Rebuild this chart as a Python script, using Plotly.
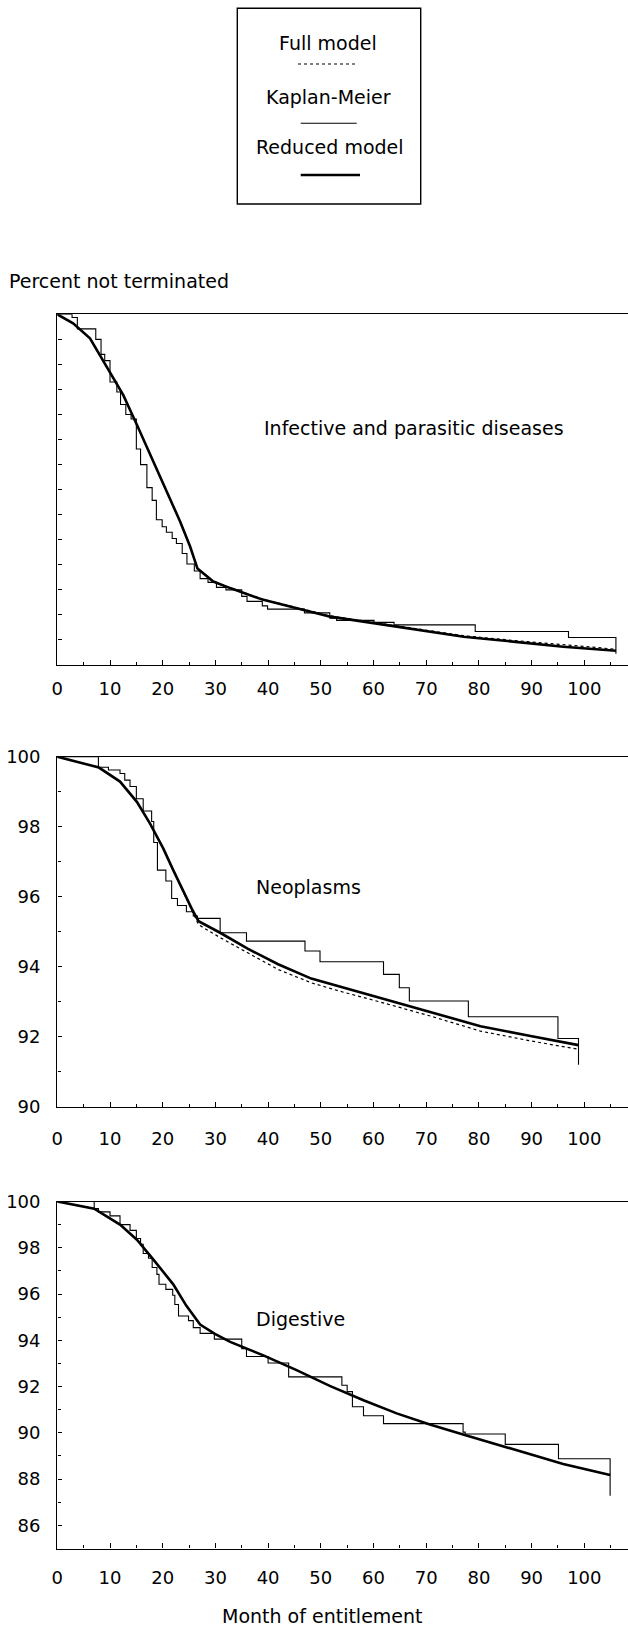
import plotly.graph_objects as go

W, H = 628, 1632

# ---------------- data ----------------
x_tick_vals = [0, 10, 20, 30, 40, 50, 60, 70, 80, 90, 100]

# Panel 1: Infective and parasitic diseases
top_km_month = [0, 2.8, 3.8, 7.3, 8.3, 9.0, 10.0, 11.3, 12.0, 13.0, 14.0, 15.0, 15.8, 17.0,
                18.0, 18.8, 19.9, 20.7, 21.8, 22.6, 23.7, 24.6, 26.0, 27.1, 28.6, 30.2, 32.0,
                35.0, 36.0, 38.9, 39.9, 46.9, 51.7, 53.0, 60.1, 63.9, 79.3, 97.0, 106.0]
top_km_pct = [100, 99.87, 99.42, 99.0, 98.4, 98.15, 97.3, 96.9, 96.4, 96.0, 95.82, 94.62, 94.0, 93.08,
              92.57, 91.8, 91.52, 91.3, 91.05, 90.85, 90.45, 90.03, 89.75, 89.45, 89.3, 89.1, 89.0,
              88.74, 88.54, 88.36, 88.23, 88.08, 87.87, 87.78, 87.70, 87.60, 87.34, 87.10, 86.45]
top_red_month = [0, 3.0, 6.2, 10.0, 12.5, 15.1, 18.2, 20.75, 23.3, 25.2, 26.6, 29.6, 32.8,
                 39.1, 45.4, 51.8, 58.1, 64.4, 70.7, 77.1, 83.4, 89.7, 96.0, 106.0]
top_red_pct = [100, 99.64, 99.04, 97.71, 96.78, 95.59, 94.12, 92.93, 91.73, 90.73, 89.85, 89.33, 89.07,
               88.6, 88.27, 87.93, 87.73, 87.53, 87.33, 87.13, 87.0, 86.87, 86.73, 86.57]
top_full_month = [0, 3.0, 6.2, 10.0, 12.5, 15.1, 18.2, 20.75, 23.3, 25.2, 26.6, 29.6, 32.8,
                  39.1, 45.4, 51.8, 58.1, 64.4, 70.7, 77.1, 83.4, 89.7, 96.0, 106.0]
top_full_pct = [100, 99.64, 99.04, 97.71, 96.78, 95.59, 94.12, 92.93, 91.73, 90.73, 89.85, 89.34, 89.08,
                88.62, 88.29, 87.96, 87.76, 87.56, 87.37, 87.17, 87.04, 86.92, 86.79, 86.63]

# Panel 2: Neoplasms
mid_km_month = [0, 7.8, 9.7, 11.9, 12.8, 13.8, 15.0, 16.3, 17.9, 18.3, 19.0, 20.6, 21.7, 22.8,
                24.5, 25.8, 26.6, 30.9, 35.9, 47.0, 49.85, 61.9, 64.9, 66.8, 78.0, 95.0, 98.9]
mid_km_pct = [100, 99.70, 99.62, 99.52, 99.33, 99.15, 98.80, 98.45, 98.15, 97.55, 96.76, 96.45, 95.95, 95.75,
              95.57, 95.45, 95.38, 94.97, 94.73, 94.45, 94.14, 93.78, 93.40, 93.02, 92.57, 91.95, 91.2]
mid_red_month = [0, 7.9, 11.9, 15.1, 17.6, 20.1, 22.0, 23.9, 25.5, 26.8, 30.9, 36.2, 41.9,
                 48.2, 53.6, 61.3, 70.8, 80.3, 89.8, 98.9]
mid_red_pct = [100, 99.69, 99.29, 98.71, 98.09, 97.38, 96.76, 96.14, 95.66, 95.30, 94.97, 94.51, 94.07,
               93.66, 93.43, 93.11, 92.69, 92.30, 92.02, 91.76]
mid_full_month = [0, 7.9, 11.9, 15.1, 17.6, 20.1, 22.0, 23.9, 25.5, 26.8, 30.9, 36.2, 41.9,
                  48.2, 53.6, 61.3, 70.8, 80.3, 89.8, 98.9]
mid_full_pct = [100, 99.69, 99.29, 98.71, 98.09, 97.38, 96.76, 96.14, 95.66, 95.20, 94.83, 94.40, 93.92,
                93.54, 93.30, 92.99, 92.59, 92.16, 91.88, 91.64]

# Panel 3: Digestive
bot_km_month = [0, 7.0, 7.8, 10.0, 11.9, 13.8, 15.0, 15.8, 16.3, 17.3, 18.0, 18.9, 19.3, 20.6,
                21.9, 22.3, 23.0, 24.9, 25.8, 27.1, 29.8, 35.0, 35.9, 40.0, 43.9, 54.0, 55.0,
                56.0, 58.1, 61.9, 77.0, 77.4, 85.0, 95.1, 104.9]
bot_km_pct = [100, 99.7, 99.55, 99.38, 99.0, 98.75, 98.4, 98.15, 97.75, 97.55, 97.15, 96.85, 96.42, 96.2,
              95.95, 95.55, 95.05, 94.85, 94.55, 94.3, 94.05, 93.64, 93.3, 93.02, 92.42, 92.06, 91.78,
              91.13, 90.74, 90.40, 90.03, 89.95, 89.5, 88.88, 87.28]
bot_red_month = [0, 7.0, 11.9, 15.1, 18.2, 22.0, 24.5, 27.1, 29.9, 32.8, 39.1, 45.4, 51.7,
                 58.1, 64.4, 70.7, 77.0, 83.4, 89.7, 96.0, 104.9]
bot_red_pct = [100, 99.69, 99.0, 98.35, 97.5, 96.42, 95.49, 94.68, 94.28, 93.93, 93.35, 92.71, 92.03,
               91.41, 90.84, 90.36, 89.93, 89.5, 89.07, 88.65, 88.18]
bot_full_month = [0, 7.0, 11.9, 15.1, 18.2, 22.0, 24.5, 27.1, 29.9, 32.8, 39.1, 45.4, 51.7,
                  58.1, 64.4, 70.7, 77.0, 83.4, 89.7, 96.0, 104.9]
bot_full_pct = [100, 99.69, 99.0, 98.35, 97.5, 96.42, 95.49, 94.68, 94.28, 93.93, 93.35, 92.71, 92.03,
                91.41, 90.84, 90.36, 89.93, 89.5, 89.07, 88.65, 88.17]

panel_titles = ["Infective and parasitic diseases", "Neoplasms", "Digestive"]
legend_labels = ["Full model", "Kaplan-Meier", "Reduced model"]

# ---------------- layout helpers ----------------
def px(x):
    return x / W

def py(y):
    return 1 - y / H

FONT = "DejaVu Sans"
X0 = 57.3          # pixel of month 0
PPM = 5.27         # pixels per month
x_range = [0, (W - X0) / PPM]

panels = [
    dict(km=(top_km_month, top_km_pct), full=(top_full_month, top_full_pct), red=(top_red_month, top_red_pct),
         ytop=314.3, ybot=665.0, yr=[86, 100], labels=False, standoff=7,
         title=(414, 428)),
    dict(km=(mid_km_month, mid_km_pct), full=(mid_full_month, mid_full_pct), red=(mid_red_month, mid_red_pct),
         ytop=756.7, ybot=1106.7, yr=[90, 100], labels=True, standoff=15,
         title=(308, 887)),
    dict(km=(bot_km_month, bot_km_pct), full=(bot_full_month, bot_full_pct), red=(bot_red_month, bot_red_pct),
         ytop=1201.5, ybot=1548.5, yr=[85, 100], labels=True, standoff=13,
         title=(300, 1319)),
]

fig = go.Figure()
layout = dict(
    width=W, height=H, margin=dict(l=0, r=0, t=0, b=0, pad=0),
    paper_bgcolor="white", plot_bgcolor="white", showlegend=False,
    font=dict(family=FONT, size=18, color="black"),
)

annotations = []
shapes = []

for i, p in enumerate(panels, start=1):
    xa = "x" if i == 1 else f"x{i}"
    ya = "y" if i == 1 else f"y{i}"
    fig.add_trace(go.Scatter(x=p["full"][0], y=p["full"][1], mode="lines", xaxis=xa, yaxis=ya,
                             line=dict(color="black", width=1.2, dash="dot")))
    fig.add_trace(go.Scatter(x=p["km"][0], y=p["km"][1], mode="lines", xaxis=xa, yaxis=ya,
                             line=dict(color="black", width=1.1, shape="hv")))
    fig.add_trace(go.Scatter(x=p["red"][0], y=p["red"][1], mode="lines", xaxis=xa, yaxis=ya,
                             line=dict(color="black", width=2.6)))
    xkey = "xaxis" if i == 1 else f"xaxis{i}"
    ykey = "yaxis" if i == 1 else f"yaxis{i}"
    layout[xkey] = dict(
        domain=[px(X0), 1], range=x_range, anchor=ya, automargin=False,
        showgrid=False, zeroline=False, showline=True, linecolor="black", linewidth=1.4, mirror=True,
        tickmode="array", tickvals=x_tick_vals, ticks="inside", ticklen=5, tickwidth=1, tickcolor="black",
        minor=dict(ticks="inside", ticklen=3, dtick=5, tick0=0, tickcolor="black", tickwidth=1),
        tickfont=dict(family=FONT, size=18, color="black"), ticklabelstandoff=p["standoff"],
    )
    ydict = dict(
        domain=[py(p["ybot"]), py(p["ytop"])], range=p["yr"], anchor=xa, automargin=False,
        showgrid=False, zeroline=False, showline=True, linecolor="black", linewidth=1.4,
        ticks="inside", tickcolor="black", tickwidth=1,
        tickfont=dict(family=FONT, size=18, color="black"),
    )
    if p["labels"]:
        ydict.update(dtick=2, tick0=0, ticklen=4, showticklabels=True, ticklabelstandoff=12,
                     minor=dict(ticks="inside", ticklen=3, dtick=1, tick0=0, tickcolor="black"))
    else:
        ydict.update(dtick=1, tick0=0, ticklen=4, showticklabels=False)
    layout[ykey] = ydict
    tx, ty = p["title"]
    annotations.append(dict(x=px(tx), y=py(ty), xref="paper", yref="paper", text=panel_titles[i - 1],
                            showarrow=False, xanchor="center", yanchor="middle",
                            font=dict(family=FONT, size=19, color="black")))

# axis titles
annotations.append(dict(x=px(7), y=py(281), xref="paper", yref="paper", text="Percent not terminated",
                        showarrow=False, xanchor="left", yanchor="middle",
                        font=dict(family=FONT, size=19, color="black")))
annotations.append(dict(x=px(322), y=py(1616), xref="paper", yref="paper", text="Month of entitlement",
                        showarrow=False, xanchor="center", yanchor="middle",
                        font=dict(family=FONT, size=19, color="black")))

# legend box
shapes.append(dict(type="rect", xref="paper", yref="paper", x0=px(237.3), x1=px(420.7), y0=py(204), y1=py(8.3),
                   line=dict(color="black", width=1.4)))
leg_text_pos = [(328.3, 43), (328.3, 96.7), (330, 146.7)]
for lab, (lx, ly) in zip(legend_labels, leg_text_pos):
    annotations.append(dict(x=px(lx), y=py(ly), xref="paper", yref="paper", text=lab, showarrow=False,
                            xanchor="center", yanchor="middle", font=dict(family=FONT, size=19, color="black")))
shapes.append(dict(type="line", xref="paper", yref="paper", x0=px(298), x1=px(355), y0=py(64), y1=py(64),
                   line=dict(color="black", width=1.2, dash="dot")))
shapes.append(dict(type="line", xref="paper", yref="paper", x0=px(300.7), x1=px(356.7), y0=py(123.3), y1=py(123.3),
                   line=dict(color="black", width=1.1)))
shapes.append(dict(type="line", xref="paper", yref="paper", x0=px(300.7), x1=px(360), y0=py(175), y1=py(175),
                   line=dict(color="black", width=2.6)))

layout["annotations"] = annotations
layout["shapes"] = shapes
fig.update_layout(**layout)
fig.write_html(
    "out.html",
    post_script="document.body.style.margin='0';document.body.style.padding='0';"
                "document.documentElement.style.margin='0';document.body.style.overflow='hidden';",
)
